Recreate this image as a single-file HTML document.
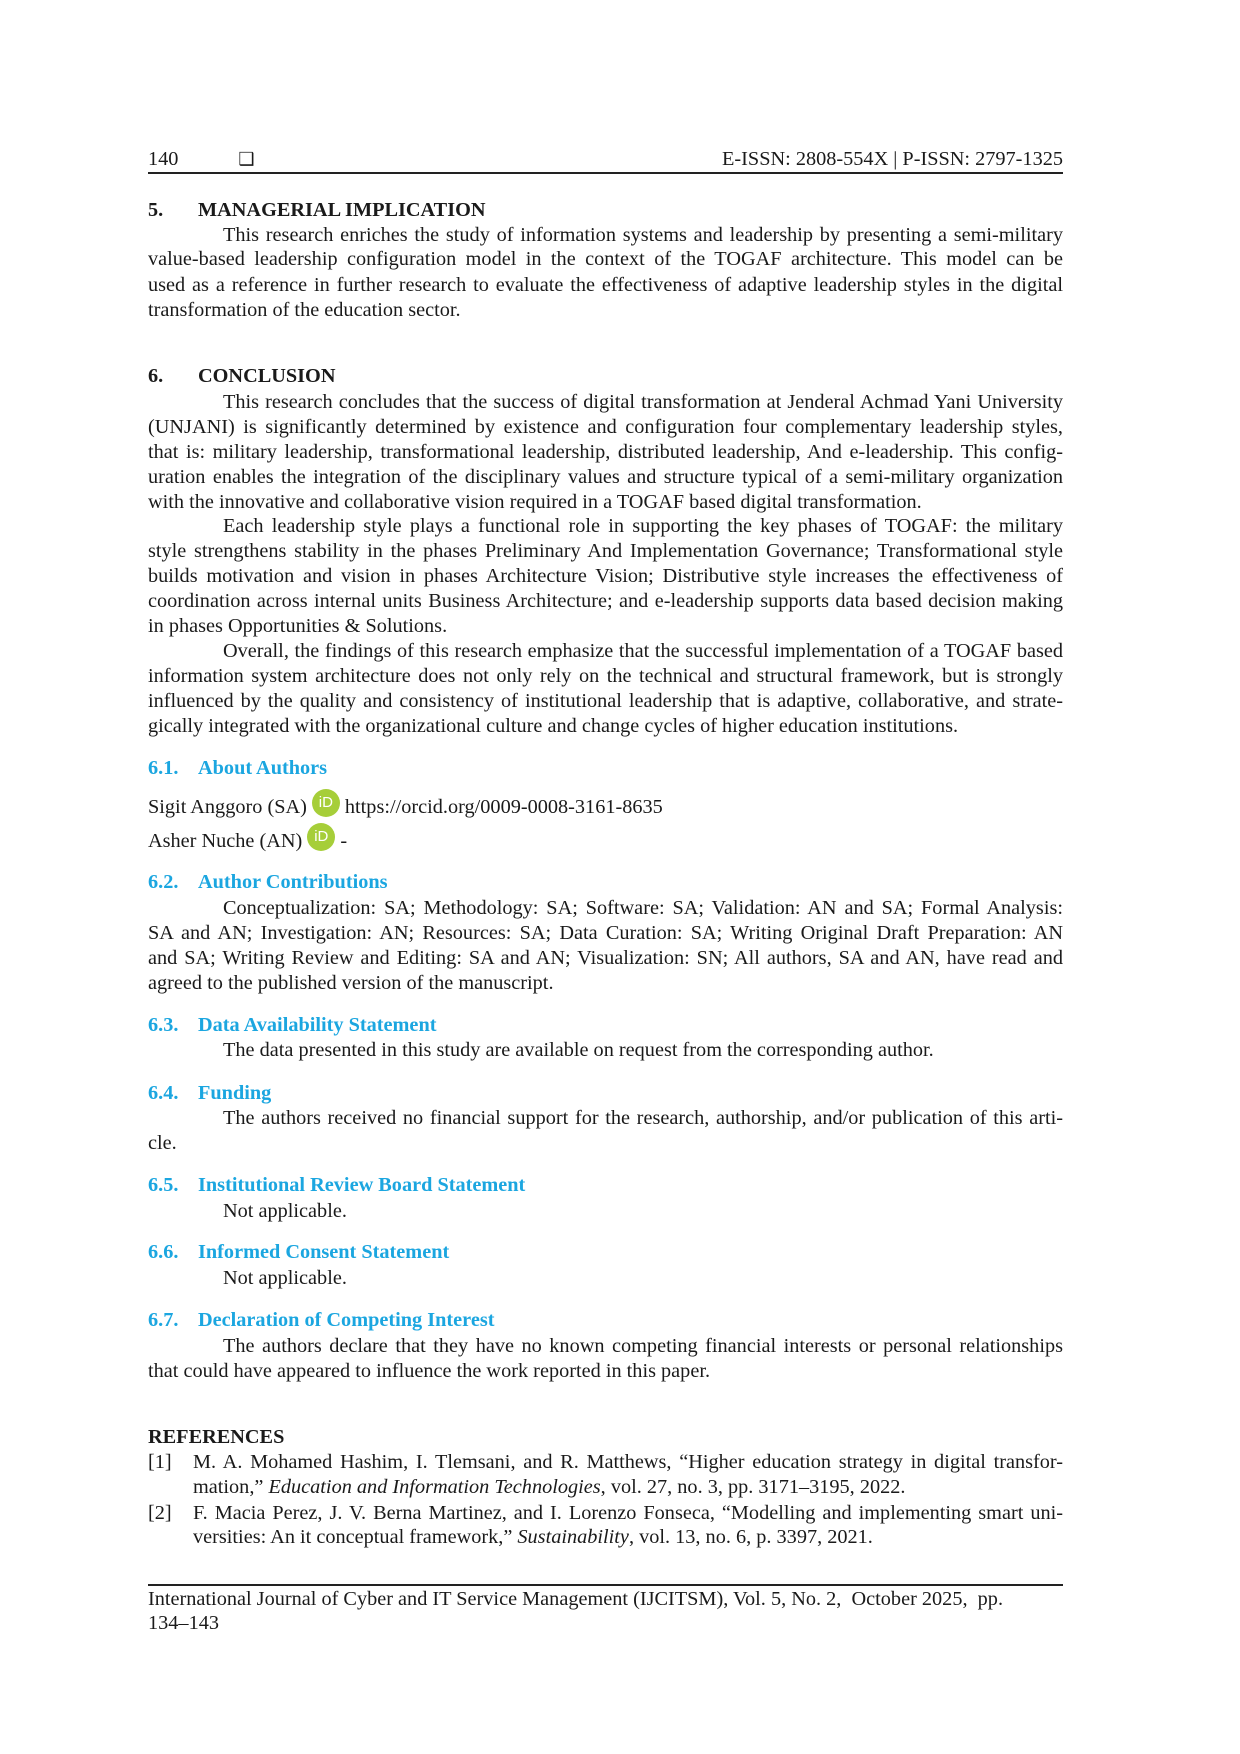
<!DOCTYPE html>
<html><head><meta charset="utf-8"><style>
body{margin:0;background:#fff;}
#p{position:relative;width:1240px;height:1754px;font-family:"Liberation Serif",serif;font-size:20.3px;color:#1a1a1a;}
.l{position:absolute;left:148px;width:915px;height:25px;line-height:25px;white-space:nowrap;}
.j{text-align:justify;text-align-last:justify;}
.i{left:223px;width:840px;}
.r{left:193px;width:870px;}
.b{font-weight:bold;}
.c{color:#1ba6e0;font-weight:bold;}
.n{display:inline-block;width:50px;}
.hr{position:absolute;left:148px;width:915px;height:2px;background:#222;}
.id{display:inline-block;width:28px;height:28px;border-radius:50%;background:#a6ce39;color:#fff;font-family:"Liberation Sans",sans-serif;font-size:15px;line-height:28px;text-align:center;vertical-align:6px;margin:0 5px;}
</style></head><body><div id="p">
<div class="l" style="top:147px">140<span style="margin-left:60px;font-size:18px">&#10065;</span></div>
<div class="l" style="top:147px;text-align:right">E-ISSN: 2808-554X | P-ISSN: 2797-1325</div>
<div class="hr" style="top:172px"></div>

<div class="l b" style="top:198px"><span class="n">5.</span>MANAGERIAL IMPLICATION</div>
<div class="l i j" style="top:223px">This research enriches the study of information systems and leadership by presenting a semi-military</div>
<div class="l j" style="top:247px">value-based leadership configuration model in the context of the TOGAF architecture. This model can be</div>
<div class="l j" style="top:273px">used as a reference in further research to evaluate the effectiveness of adaptive leadership styles in the digital</div>
<div class="l" style="top:298px">transformation of the education sector.</div>

<div class="l b" style="top:364px"><span class="n">6.</span>CONCLUSION</div>
<div class="l i j" style="top:390px">This research concludes that the success of digital transformation at Jenderal Achmad Yani University</div>
<div class="l j" style="top:415px">(UNJANI) is significantly determined by existence and configuration four complementary leadership styles,</div>
<div class="l j" style="top:440px">that is: military leadership, transformational leadership, distributed leadership, And e-leadership. This config-</div>
<div class="l j" style="top:465px">uration enables the integration of the disciplinary values and structure typical of a semi-military organization</div>
<div class="l" style="top:490px">with the innovative and collaborative vision required in a TOGAF based digital transformation.</div>
<div class="l i j" style="top:514px">Each leadership style plays a functional role in supporting the key phases of TOGAF: the military</div>
<div class="l j" style="top:539px">style strengthens stability in the phases Preliminary And Implementation Governance; Transformational style</div>
<div class="l j" style="top:564px">builds motivation and vision in phases Architecture Vision; Distributive style increases the effectiveness of</div>
<div class="l j" style="top:589px">coordination across internal units Business Architecture; and e-leadership supports data based decision making</div>
<div class="l" style="top:614px">in phases Opportunities &amp; Solutions.</div>
<div class="l i j" style="top:639px">Overall, the findings of this research emphasize that the successful implementation of a TOGAF based</div>
<div class="l j" style="top:664px">information system architecture does not only rely on the technical and structural framework, but is strongly</div>
<div class="l j" style="top:689px">influenced by the quality and consistency of institutional leadership that is adaptive, collaborative, and strate-</div>
<div class="l" style="top:714px">gically integrated with the organizational culture and change cycles of higher education institutions.</div>

<div class="l c" style="top:756px"><span class="n">6.1.</span>About Authors</div>
<div class="l" style="top:789px">Sigit Anggoro (SA)<span class="id">iD</span>https://orcid.org/0009-0008-3161-8635</div>
<div class="l" style="top:823px">Asher Nuche (AN)<span class="id">iD</span>-</div>

<div class="l c" style="top:870px"><span class="n">6.2.</span>Author Contributions</div>
<div class="l i j" style="top:896px">Conceptualization: SA; Methodology: SA; Software: SA; Validation: AN and SA; Formal Analysis:</div>
<div class="l j" style="top:921px">SA and AN; Investigation: AN; Resources: SA; Data Curation: SA; Writing Original Draft Preparation: AN</div>
<div class="l j" style="top:946px">and SA; Writing Review and Editing: SA and AN; Visualization: SN; All authors, SA and AN, have read and</div>
<div class="l" style="top:971px">agreed to the published version of the manuscript.</div>

<div class="l c" style="top:1013px"><span class="n">6.3.</span>Data Availability Statement</div>
<div class="l i" style="top:1038px">The data presented in this study are available on request from the corresponding author.</div>

<div class="l c" style="top:1081px"><span class="n">6.4.</span>Funding</div>
<div class="l i j" style="top:1106px">The authors received no financial support for the research, authorship, and/or publication of this arti-</div>
<div class="l" style="top:1131px">cle.</div>

<div class="l c" style="top:1173px"><span class="n">6.5.</span>Institutional Review Board Statement</div>
<div class="l i" style="top:1199px">Not applicable.</div>

<div class="l c" style="top:1240px"><span class="n">6.6.</span>Informed Consent Statement</div>
<div class="l i" style="top:1266px">Not applicable.</div>

<div class="l c" style="top:1308px"><span class="n">6.7.</span>Declaration of Competing Interest</div>
<div class="l i j" style="top:1334px">The authors declare that they have no known competing financial interests or personal relationships</div>
<div class="l" style="top:1359px">that could have appeared to influence the work reported in this paper.</div>

<div class="l b" style="top:1425px">REFERENCES</div>
<div class="l" style="top:1450px">[1]</div>
<div class="l r j" style="top:1450px">M. A. Mohamed Hashim, I. Tlemsani, and R. Matthews, “Higher education strategy in digital transfor-</div>
<div class="l r" style="top:1475px">mation,” <i>Education and Information Technologies</i>, vol. 27, no. 3, pp. 3171–3195, 2022.</div>
<div class="l" style="top:1501px">[2]</div>
<div class="l r j" style="top:1501px">F. Macia Perez, J. V. Berna Martinez, and I. Lorenzo Fonseca, “Modelling and implementing smart uni-</div>
<div class="l r" style="top:1525px">versities: An it conceptual framework,” <i>Sustainability</i>, vol. 13, no. 6, p. 3397, 2021.</div>

<div class="hr" style="top:1584px"></div>
<div class="l" style="top:1587px">International Journal of Cyber and IT Service Management (IJCITSM), Vol. 5, No. 2, &nbsp;October 2025, &nbsp;pp.</div>
<div class="l" style="top:1611px">134–143</div>
</div></body></html>
